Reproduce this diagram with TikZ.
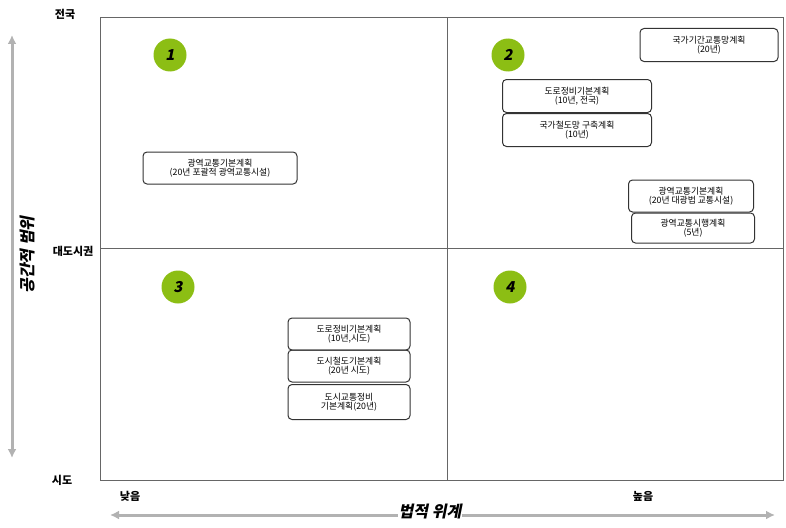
\documentclass[tikz,border=0pt]{standalone}
\usepackage{fontspec}
\setmainfont{Noto Sans CJK KR}
\newfontfamily\krsl[FakeSlant=0.2]{Noto Sans CJK KR}
\usetikzlibrary{arrows.meta}
\definecolor{grn}{RGB}{140,190,20}
\tikzset{x=1pt,y=-1pt,
 plan/.style={draw=black!80,line width=1pt,rounded corners=4pt,align=center,font=\fontsize{8.8}{9.5}\selectfont,inner sep=1pt},
 num/.style={circle,fill=grn,minimum size=33pt,inner sep=0pt,font=\krsl\bfseries\fontsize{15}{15}\selectfont},
 axlab/.style={font=\fontsize{11}{12}\selectfont\bfseries},
 bigarrow/.style={{Latex[length=9pt,width=9pt]}-{Latex[length=9pt,width=9pt]},draw=black!30,line width=3pt}}
\begin{document}
\begin{tikzpicture}
\useasboundingbox (0,0) rectangle (786,527);
\draw[black!60,line width=1pt] (100,18) rectangle (783,480);
\draw[black!60,line width=1pt] (447,18) -- (447,480) (100,248) -- (783,248);
\node[axlab] (t1) at (65,14) {전국};
\node[axlab] (t2) at (73,251) {대도시권};
\node[axlab] (t3) at (62,480) {시도};
\node[axlab] (l1) at (130,496) {낮음};
\node[axlab] (l2) at (643,496) {높음};
\coordinate (va) at (12,35); \coordinate (vb) at (12,458);
\draw[bigarrow] (va) -- (vb);
\node[rotate=90,font=\krsl\bfseries\fontsize{16}{16}\selectfont] (vl) at (28,255) {공간적 범위};
\coordinate (ha) at (110,515); \coordinate (hb) at (775,515);
\draw[bigarrow] (ha) -- (hb);
\node[fill=white,font=\krsl\bfseries\fontsize{16}{16}\selectfont,inner sep=1pt] (hl) at (430,512) {법적 위계};
\node[num] (n1) at (170,55) {1};
\node[num] (n2) at (508,55) {2};
\node[num] (n3) at (178,287) {3};
\node[num] (n4) at (510,287) {4};
\node[plan,minimum width=138pt,minimum height=33pt] (b1) at (709,45) {국가기간교통망계획\\(20년)};
\node[plan,minimum width=149pt,minimum height=33pt] (b2) at (577,96) {도로정비기본계획\\(10년, 전국)};
\node[plan,minimum width=149pt,minimum height=33pt] (b3) at (577,130) {국가철도망 구축계획\\(10년)};
\node[plan,minimum width=125pt,minimum height=32pt] (b4) at (691,196) {광역교통기본계획\\(20년 대광법 교통시설)};
\node[plan,minimum width=123pt,minimum height=30pt] (b5) at (693,228) {광역교통시행계획\\(5년)};
\node[plan,minimum width=154pt,minimum height=32pt] (b6) at (220,168) {광역교통기본계획\\(20년 포괄적 광역교통시설)};
\node[plan,minimum width=122pt,minimum height=32pt] (b7) at (349,334) {도로정비기본계획\\(10년,시도)};
\node[plan,minimum width=122pt,minimum height=32pt] (b8) at (349,366) {도시철도기본계획\\(20년 시도)};
\node[plan,minimum width=122pt,minimum height=35pt] (b9) at (349,402) {도시교통정비\\기본계획(20년)};
\end{tikzpicture}
\end{document}
